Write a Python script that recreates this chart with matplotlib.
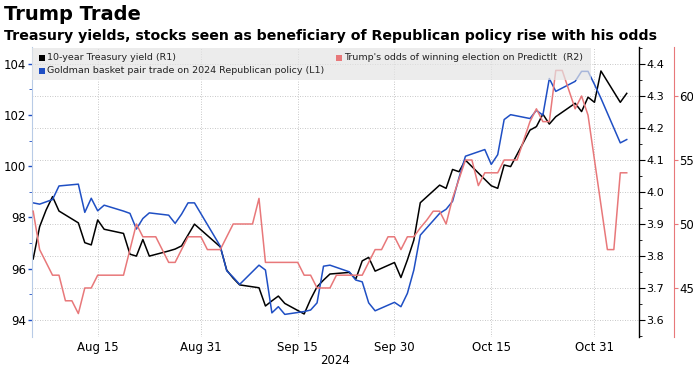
import pandas as pd
import matplotlib
matplotlib.use("Agg")
import matplotlib.pyplot as plt
import matplotlib.dates as mdates
from matplotlib.patches import Rectangle
from matplotlib.ticker import MultipleLocator, FormatStrFormatter

# 10-year Treasury yield (R1), business days
yield_dates = pd.to_datetime([
    "2024-08-05", "2024-08-06", "2024-08-07", "2024-08-08", "2024-08-09",
    "2024-08-12", "2024-08-13", "2024-08-14", "2024-08-15", "2024-08-16",
    "2024-08-19", "2024-08-20", "2024-08-21", "2024-08-22", "2024-08-23",
    "2024-08-26", "2024-08-27", "2024-08-28", "2024-08-29", "2024-08-30",
    "2024-09-03", "2024-09-04", "2024-09-05", "2024-09-06",
    "2024-09-09", "2024-09-10", "2024-09-11", "2024-09-12", "2024-09-13",
    "2024-09-16", "2024-09-17", "2024-09-18", "2024-09-19", "2024-09-20",
    "2024-09-23", "2024-09-24", "2024-09-25", "2024-09-26", "2024-09-27",
    "2024-09-30", "2024-10-01", "2024-10-02", "2024-10-03", "2024-10-04",
    "2024-10-07", "2024-10-08", "2024-10-09", "2024-10-10", "2024-10-11",
    "2024-10-15", "2024-10-16", "2024-10-17", "2024-10-18",
    "2024-10-21", "2024-10-22", "2024-10-23", "2024-10-24", "2024-10-25",
    "2024-10-28", "2024-10-29", "2024-10-30", "2024-10-31", "2024-11-01",
    "2024-11-04", "2024-11-05"])
yield_10y = [
    3.791, 3.892, 3.944, 3.986, 3.941,
    3.904, 3.842, 3.835, 3.913, 3.884,
    3.871, 3.806, 3.800, 3.852, 3.800,
    3.816, 3.822, 3.832, 3.866, 3.900,
    3.829, 3.756, 3.731, 3.710,
    3.701, 3.644, 3.660, 3.675, 3.652,
    3.619, 3.665, 3.704, 3.725, 3.744,
    3.749, 3.728, 3.785, 3.796, 3.753,
    3.780, 3.733, 3.788, 3.850, 3.967,
    4.022, 4.012, 4.071, 4.064, 4.100,
    4.020, 4.012, 4.085, 4.080,
    4.194, 4.205, 4.244, 4.213, 4.236,
    4.278, 4.252, 4.297, 4.281, 4.379,
    4.281, 4.309]

# Goldman basket pair trade (L1), business days
basket_dates = pd.to_datetime([
    "2024-08-05", "2024-08-06", "2024-08-07", "2024-08-08", "2024-08-09",
    "2024-08-12", "2024-08-13", "2024-08-14", "2024-08-15", "2024-08-16",
    "2024-08-19", "2024-08-20", "2024-08-21", "2024-08-22", "2024-08-23",
    "2024-08-26", "2024-08-27", "2024-08-28", "2024-08-29", "2024-08-30",
    "2024-09-03", "2024-09-04", "2024-09-05", "2024-09-06",
    "2024-09-09", "2024-09-10", "2024-09-11", "2024-09-12", "2024-09-13",
    "2024-09-16", "2024-09-17", "2024-09-18", "2024-09-19", "2024-09-20",
    "2024-09-23", "2024-09-24", "2024-09-25", "2024-09-26", "2024-09-27",
    "2024-09-30", "2024-10-01", "2024-10-02", "2024-10-03", "2024-10-04",
    "2024-10-07", "2024-10-08", "2024-10-09", "2024-10-10", "2024-10-11",
    "2024-10-14", "2024-10-15", "2024-10-16", "2024-10-17", "2024-10-18",
    "2024-10-21", "2024-10-22", "2024-10-23", "2024-10-24", "2024-10-25",
    "2024-10-28", "2024-10-29", "2024-10-30", "2024-10-31", "2024-11-01",
    "2024-11-04", "2024-11-05"])
basket = [
    98.57, 98.52, 98.61, 98.70, 99.23,
    99.30, 98.20, 98.75, 98.26, 98.48,
    98.25, 98.16, 97.55, 97.96, 98.18,
    98.09, 97.77, 98.13, 98.57, 98.57,
    96.88, 95.92, 95.67, 95.39,
    96.14, 95.95, 94.28, 94.52, 94.22,
    94.33, 94.39, 94.67, 96.10, 96.14,
    95.88, 95.56, 95.49, 94.67, 94.36,
    94.69, 94.52, 95.04, 95.95, 97.31,
    98.16, 98.32, 98.63, 99.55, 100.39,
    100.65, 100.07, 100.45, 101.82, 102.01,
    101.86, 102.18, 101.99, 103.42, 102.92,
    103.31, 103.70, 103.70, 103.19, 102.65,
    100.91, 101.04]

# Trump's odds on PredictIt (R2), daily from Aug 5
odds_dates = pd.date_range("2024-08-05", "2024-11-05", freq="D")
odds = [
    51, 48, 47, 46, 46, 44, 44,            # Aug 5-11
    43, 45, 45, 46, 46, 46, 46,            # Aug 12-18
    46, 48, 50, 49, 49, 49, 48,            # Aug 19-25
    47, 47, 48, 49, 49, 49, 48,            # Aug 26-Sep 1
    48, 48, 49, 50, 50, 50, 50,            # Sep 2-8
    52, 47, 47, 47, 47, 47, 47,            # Sep 9-15
    46, 46, 45, 45, 45, 46, 46,            # Sep 16-22
    46, 46, 46, 47, 48, 48, 49,            # Sep 23-29
    49, 48, 49, 49, 49.7, 50.3, 51,        # Sep 30-Oct 6
    51, 50, 52, 53.5, 55, 55, 53,          # Oct 7-13
    54, 54, 54, 55, 55, 55, 56.5,          # Oct 14-20
    58, 59, 58, 58, 62, 62, 60.5,          # Oct 21-27
    59, 60, 58.5, 55, 51.5, 48, 48,        # Oct 28-Nov 3
    54, 54]                                # Nov 4-5

xtick_dates = pd.to_datetime(["2024-08-15", "2024-08-31", "2024-09-15",
                              "2024-09-30", "2024-10-15", "2024-10-31"])

BLACK = "#000000"
BLUE = "#1f4fc4"
RED = "#e8787a"

fig = plt.figure(figsize=(6.93, 3.66), dpi=100)
W, H = 693, 366
ax = fig.add_axes([31.5 / W, 1 - 337 / H, (639 - 31.5) / W, 290 / H])

# host axis: treasury yield (R1), carries the grid
ax.plot(yield_dates, yield_10y, color=BLACK, lw=1.1, zorder=3)
ax.set_ylim(3.547, 4.454)
ax.grid(axis="y", color="#b5b5b5", linestyle=(0, (1, 2)), lw=0.6)
ax.grid(axis="x", color="#b5b5b5", linestyle=(0, (1, 2)), lw=0.6)
ax.set_xlim(pd.Timestamp("2024-08-15") - pd.Timedelta(days=10.26),
            pd.Timestamp("2024-08-15") + pd.Timedelta(days=83.9))
ax.set_xticks(xtick_dates)
ax.xaxis.set_major_formatter(mdates.DateFormatter("%b %d"))
ax.tick_params(axis="x", length=0, labelsize=8.5, pad=3)
ax.set_xlabel("2024", fontsize=8.5, labelpad=0)

# basket on the left (L1)
axb = ax.twinx()
axb.plot(basket_dates, basket, color=BLUE, lw=1.1)
axb.set_ylim(93.338, 104.65)
axb.yaxis.tick_left()
axb.yaxis.set_major_locator(MultipleLocator(2))
axb.yaxis.set_minor_locator(MultipleLocator(1))
axb.tick_params(axis="y", which="major", length=3, width=1.0, color=BLUE,
                labelcolor=BLACK, labelsize=8.5, pad=1)
axb.tick_params(axis="y", which="minor", length=2, width=0.6, color=BLUE)
for s in ["top", "right", "bottom"]:
    axb.spines[s].set_visible(False)
axb.spines["left"].set_color("#b8cbe6")

# odds on the outer right (R2)
axr = ax.twinx()
axr.plot(odds_dates, odds, color=RED, lw=1.1)
axr.set_ylim(41.17, 63.83)
axr.spines["right"].set_position(("outward", 25))
axr.yaxis.set_major_locator(MultipleLocator(5))
axr.tick_params(axis="y", length=3, width=0.8, color=RED,
                labelcolor=BLACK, labelsize=8.5, pad=1)
for s in ["top", "left", "bottom"]:
    axr.spines[s].set_visible(False)
axr.spines["right"].set_color(RED)

# host y ticks go right (twinx resets them to the left)
ax.yaxis.tick_right()
ax.yaxis.set_label_position("right")
ax.yaxis.set_major_locator(MultipleLocator(0.1))
ax.yaxis.set_minor_locator(MultipleLocator(0.05))
ax.yaxis.set_major_formatter(FormatStrFormatter("%.1f"))
ax.tick_params(axis="y", which="major", length=4, width=0.8, colors=BLACK,
               labelsize=8, pad=1)
ax.tick_params(axis="y", which="minor", length=2, width=0.6, colors=BLACK)
for s in ["top", "left", "bottom"]:
    ax.spines[s].set_visible(False)
ax.spines["right"].set_color(BLACK)
ax.spines["right"].set_linewidth(1.0)

# legend box
fig.patches.append(Rectangle((32 / W, 1 - 80 / H), (591 - 32) / W, 32 / H,
                             transform=fig.transFigure, facecolor="#e4e4e4",
                             alpha=0.7, edgecolor="none", zorder=5))
legend_items = [
    ("10-year Treasury yield (R1)", BLACK, 39, 58),
    ("Goldman basket pair trade on 2024 Republican policy (L1)", BLUE, 39, 70.5),
    ("Trump's odds of winning election on PredictIt  (R2)", RED, 336, 58),
]
for label, color, lx, ly in legend_items:
    fig.patches.append(Rectangle((lx / W, 1 - (ly + 3) / H), 6 / W, 6 / H,
                                 transform=fig.transFigure, facecolor=color,
                                 edgecolor="none", zorder=6))
    fig.text((lx + 8) / W, 1 - ly / H, label, fontsize=6.8, va="center",
             color="#222222", zorder=6)

fig.text(4 / W, 1 - 15 / H, "Trump Trade", fontsize=14, fontweight="bold",
         va="center")
fig.text(4 / W, 1 - 36 / H,
         "Treasury yields, stocks seen as beneficiary of Republican policy rise with his odds",
         fontsize=10.2, fontweight="bold", va="center")

fig.savefig("out.png", dpi=100)
